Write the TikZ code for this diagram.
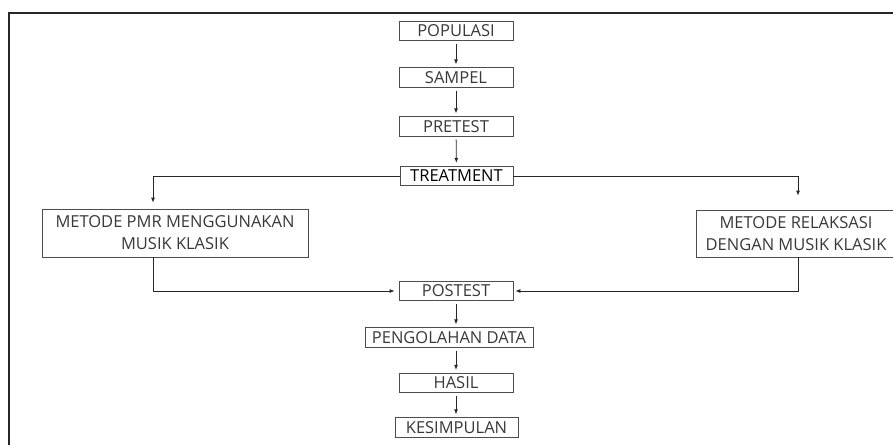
\documentclass[tikz,border=0pt]{standalone}
\usepackage{fontspec}
\setmainfont{Open Sans}
\usepackage{tikz}
\usetikzlibrary{arrows.meta}
\definecolor{teks}{rgb}{0.22,0.22,0.22}
\tikzstyle{box}=[draw=black!70, line width=0.8pt, inner sep=0pt, minimum height=19.5pt, text=teks, font=\fontsize{16.5}{22}\selectfont]
\tikzstyle{panah}=[-{Latex[length=5pt,width=4pt]}, line width=0.8pt, black!85]
\begin{document}
\begin{tikzpicture}[x=1pt,y=-1pt]
\useasboundingbox (0,0) rectangle (893,445);
\clip (0,0) rectangle (893,445);
\draw[line width=1.3pt, black!85] (9,445) -- (9,13) -- (893,13);
\node[box, minimum width=114pt] (pop) at (456,31) {POPULASI};
\node[box, minimum width=114pt] (sam) at (456,77.5) {SAMPEL};
\node[box, minimum width=114pt] (pre) at (456,126.5) {PRETEST};
\node[box, minimum width=113pt, text=black] (tre) at (456.5,176) {TREATMENT};
\node[box, minimum width=266pt, minimum height=48pt, align=center] (pmr) at (175,233) {METODE PMR MENGGUNAKAN\\MUSIK KLASIK};
\node[box, minimum width=200pt, minimum height=47pt, align=center] (rel) at (796,233.5) {METODE RELAKSASI\\DENGAN MUSIK KLASIK};
\node[box, minimum width=114pt] (pos) at (456,291) {POSTEST};
\node[box, minimum width=168pt] (olah) at (449,337.5) {PENGOLAHAN DATA};
\node[box, minimum width=114pt] (has) at (456,383) {HASIL};
\node[box, minimum width=123pt] (kes) at (456.5,427.5) {KESIMPULAN};
\coordinate (lx) at (153,0);
\coordinate (rx) at (798,0);
\draw[panah, shorten <=3pt, shorten >=3pt] (pop) -- (sam);
\draw[panah, shorten <=3pt, shorten >=3pt] (sam) -- (pre);
\draw[panah, shorten <=3pt, shorten >=3pt] (pre) -- (tre);
\draw[panah, shorten >=6pt] (tre.west) -| (lx |- pmr.north);
\draw[panah, shorten >=14pt] (tre.east) -| (rx |- rel.north);
\draw[panah, shorten >=4pt] (lx |- pmr.south) |- (pos.west);
\draw[panah, shorten >=2pt] (rx |- rel.south) |- (pos.east);
\draw[panah, shorten <=3pt, shorten >=3pt] (pos) -- (pos |- olah.north);
\draw[panah, shorten <=3pt, shorten >=3pt] (pos |- olah.south) -- (has);
\draw[panah, shorten <=3pt, shorten >=3pt] (has) -- (has |- kes.north);
\end{tikzpicture}
\end{document}
